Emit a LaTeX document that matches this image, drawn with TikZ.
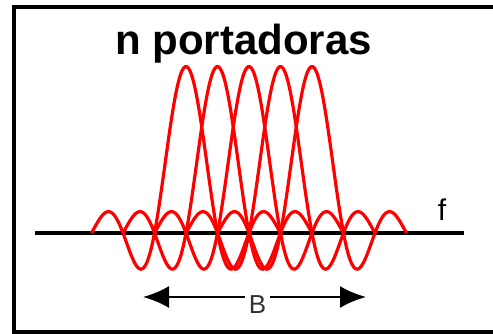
\documentclass[tikz,border=0pt]{standalone}
\usepackage{fontspec}
\setmainfont{Liberation Sans}
\usetikzlibrary{arrows.meta}

\begin{document}
\begin{tikzpicture}[x=1pt,y=-1pt,>=Stealth,
  carrier/.style={red,line width=3.2pt},
  axisline/.style={black,line width=3.5pt},
  band/.style={black,line width=2.5pt,
    {Latex[length=26pt,width=22pt]}-{Latex[length=26pt,width=22pt]}},
  lbl/.style={inner sep=0pt,anchor=base},
  declare function={sinc(\t)=sin(180*\t)/(pi*\t);}]
\fill[white] (0,0) rectangle (493,334);
\useasboundingbox (0,0) rectangle (493,334);
% open frame
\draw[line width=4pt] (493,7.5) -- (14,7.5) -- (14,331.5) -- (493,331.5);
\node[lbl,font=\fontsize{42}{48}\selectfont\bfseries] (title) at (243.5,55) {n portadoras};
% frequency axis
\coordinate (a0) at (35,233);
\coordinate (a1) at (464,233);
\draw[axisline] (a0) -- (a1);
\node[lbl,font=\fontsize{30}{36}\selectfont] (f) at (442,220) {f};
% the carriers
\foreach \c in {186,217.5,249,280.5,312}
  \draw[carrier] plot[domain=-3:3,samples=120,smooth] ({\c+31.5*\x},{233-166.5*sinc(\x)});
% bandwidth
\coordinate (bl) at (143,297);
\coordinate (br) at (366,297);
\draw[band] (bl) -- (br);
\node[lbl,fill=white,inner sep=4pt,text=black!80,font=\fontsize{26}{30}\selectfont] (B) at (257.5,313) {B};
\end{tikzpicture}
\end{document}
